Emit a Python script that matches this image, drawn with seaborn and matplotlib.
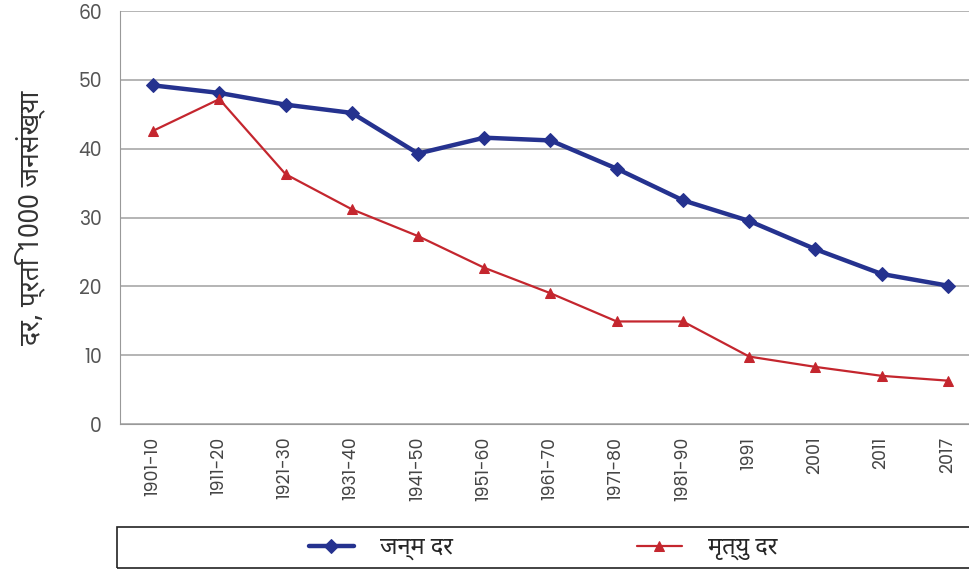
import numpy as np
import pandas as pd
import matplotlib
matplotlib.use("Agg")
import matplotlib.pyplot as plt
import seaborn as sns
from matplotlib.patches import Rectangle

# données
periodes = ["1901-10", "1911-20", "1921-30", "1931-40", "1941-50", "1951-60", "1961-70",
            "1971-80", "1981-90", "1991", "2001", "2011", "2017"]
taux_natalite = [49.2, 48.1, 46.4, 45.2, 39.3, 41.6, 41.2, 37.1, 32.5, 29.5, 25.4, 21.8, 20.1]
taux_mortalite = [42.6, 47.2, 36.3, 31.2, 27.3, 22.7, 19.0, 14.9, 14.9, 9.8, 8.3, 7.0, 6.3]
nom_natalite = "जन्म दर"
nom_mortalite = "मृत्यु दर"
titre_y = "दर, प्रति 1000 जनसंख्या"
graduations_y = [0, 10, 20, 30, 40, 50, 60]

sns.set_style("white")
plt.rcParams['font.family'] = ['Noto Sans Devanagari', 'DejaVu Sans']

df = pd.DataFrame({"periode": periodes, "naissances": taux_natalite, "deces": taux_mortalite})
df["x"] = np.arange(len(df))

fig = plt.figure(figsize=(9.7, 5.69), dpi=100)
ax = fig.add_axes([0.1237, 0.2548, 0.8876, 0.7258])

sns.lineplot(data=df, x="x", y="naissances", ax=ax, color="#25328f", linewidth=3.2,
             marker="D", markersize=7.5, markeredgecolor="#25328f", label=nom_natalite)
sns.lineplot(data=df, x="x", y="deces", ax=ax, color="#c4262e", linewidth=1.6,
             marker="^", markersize=7, markeredgecolor="#c4262e", label=nom_mortalite)

ax.set_xlim(-0.5, len(periodes) - 0.5)
ax.set_ylim(0, 60)
ax.set_yticks(graduations_y)
ax.set_yticklabels([str(v) for v in graduations_y], fontfamily="Poppins", fontsize=13.5, color="#555555")
ax.set_xticks(df["x"])
ax.set_xticklabels(periodes, rotation=90, fontfamily="Poppins", fontsize=12.5, color="#444444")
ax.set_xticks(np.arange(-0.5, len(periodes)), minor=True)
ax.tick_params(axis="x", which="major", length=0, pad=9)
ax.tick_params(axis="x", which="minor", length=5, color="#999999", width=1)
ax.tick_params(axis="y", length=5, color="#999999", width=1, pad=8)
ax.yaxis.grid(True, color="#a8a8a8", linewidth=1.2)
ax.set_axisbelow(True)
for s in ["top", "right"]:
    ax.spines[s].set_visible(False)
ax.spines["left"].set_color("#999999")
ax.spines["bottom"].set_color("#999999")
ax.set_xlabel("")
ax.set_ylabel(titre_y, fontsize=19, color="#333333", labelpad=24)

# légende en bas dans un cadre
ax.get_legend().remove()
handles, labels = ax.get_legend_handles_labels()
fig.add_artist(Rectangle((117 / 970, 1 / 569), 860 / 970, 41 / 569, transform=fig.transFigure,
                         fill=False, edgecolor="#222222", linewidth=1.2))
fig.legend(handles, labels, loc="center", bbox_to_anchor=(543 / 970, 21 / 569), ncol=2,
           frameon=False, fontsize=17, handlelength=1.9, columnspacing=7.8, handletextpad=1.1)

fig.savefig("out.png", dpi=100)
